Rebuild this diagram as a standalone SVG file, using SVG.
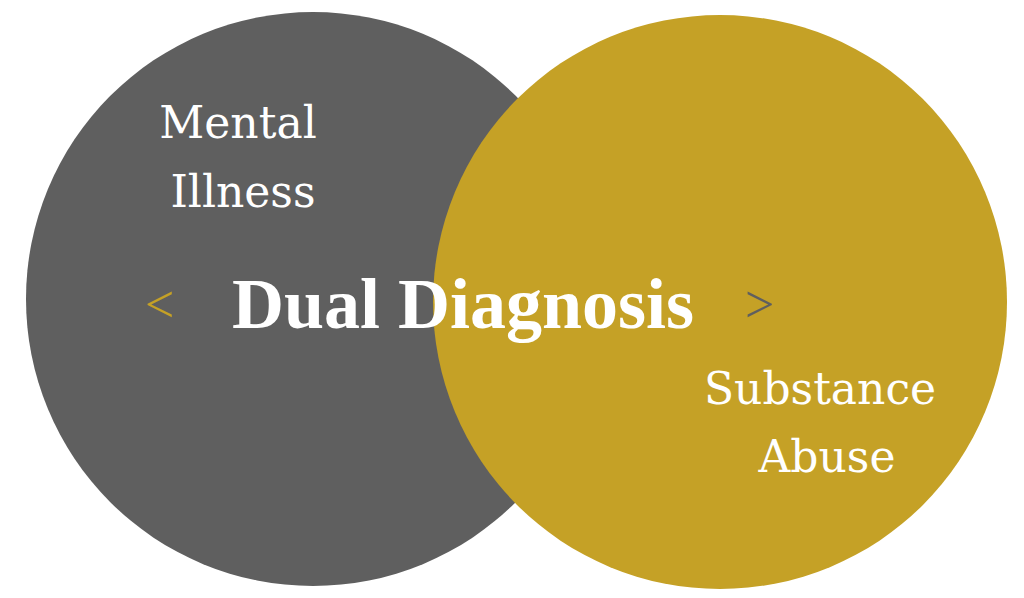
<svg xmlns="http://www.w3.org/2000/svg" width="1024" height="598" viewBox="0 0 1024 598">
<style>
.l{font-family:"DejaVu Serif","Liberation Serif",serif;fill:#fff;font-size:44px}
.t{font-family:"Liberation Serif",serif;font-weight:bold;fill:#fff;font-size:72px}
.a{font-family:"Liberation Serif",serif;font-size:52px}
</style>
<rect width="1024" height="598" fill="#fff"/>
<g id="mental"><circle cx="313" cy="299" r="287" fill="#5f5f5f"/></g>
<g id="substance"><circle cx="720" cy="302" r="287" fill="#c5a126"/></g>
<g id="labels">
<text class="l" x="238" y="138" text-anchor="middle">Mental</text>
<text class="l" x="243" y="207" text-anchor="middle">Illness</text>
<text class="l" x="820" y="404" text-anchor="middle">Substance</text>
<text class="l" x="827" y="472" text-anchor="middle">Abuse</text>
<text class="a" x="145" y="322" fill="#c5a126">&lt;</text>
<text class="t" x="463" y="328" text-anchor="middle">Dual Diagnosis</text>
<text class="a" x="745" y="322" fill="#5f5f5f">&gt;</text>
</g>
</svg>
